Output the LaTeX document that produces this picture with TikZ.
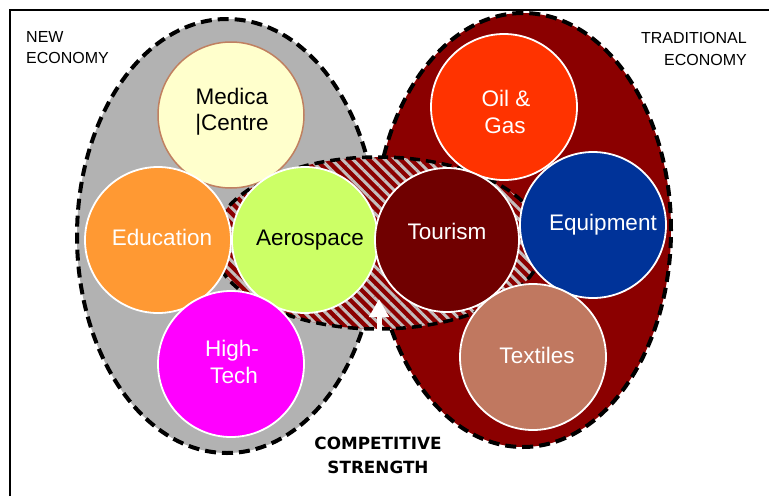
\documentclass[tikz,border=0pt]{standalone}
\usepackage{fontspec}
\setmainfont{Liberation Sans}
\newfontfamily\djvsans{DejaVu Sans}
\usetikzlibrary{patterns.meta,arrows.meta}
\definecolor{ellgray}{RGB}{178,178,178}
\definecolor{ellred}{RGB}{139,0,0}
\definecolor{hatchgray}{RGB}{196,190,190}
\definecolor{medfill}{RGB}{255,255,204}
\definecolor{medline}{RGB}{192,128,96}
\definecolor{edufill}{RGB}{255,153,51}
\definecolor{aerofill}{RGB}{204,255,102}
\definecolor{techfill}{RGB}{255,0,255}
\definecolor{oilfill}{RGB}{255,51,0}
\definecolor{tourfill}{RGB}{112,0,0}
\definecolor{equipfill}{RGB}{0,51,153}
\definecolor{textfill}{RGB}{192,120,96}
\begin{document}
\begin{tikzpicture}[x=1pt,y=-1pt,
  bubble/.style={circle, draw=white, line width=1.8pt, minimum size=146pt, inner sep=0pt},
  zone/.style={draw=black, line width=4pt, dash pattern=on 11pt off 6pt},
  lbl/.style={font=\fontsize{22.5}{26}\selectfont, anchor=base, inner sep=0pt},
  small/.style={font=\fontsize{16}{20}\selectfont, inner sep=0pt},
  strong/.style={font=\djvsans\bfseries\fontsize{16.8}{20}\selectfont, anchor=base, inner sep=0pt}
]
\useasboundingbox (0,0) rectangle (769,496);
% frame
\draw[line width=1.8pt] (10,496) -- (10,10) -- (769,10);
% economy zones
\fill[ellgray] (227,236) ellipse [x radius=150pt, y radius=217pt];
\draw[zone] (227,236) ellipse [x radius=150pt, y radius=217pt];
\fill[ellred] (523,230) ellipse [x radius=148pt, y radius=217pt];
\draw[zone] (523,230) ellipse [x radius=148pt, y radius=217pt];
% competitive strength zone
\fill[ellred] (378,243) ellipse [x radius=165pt, y radius=86pt];
\fill[pattern={Lines[angle=-45,distance=7.5pt,line width=3pt]}, pattern color=hatchgray]
  (378,243) ellipse [x radius=165pt, y radius=86pt];
\draw[draw=black, line width=3.5pt, dash pattern=on 10pt off 6pt] (378,243) ellipse [x radius=165pt, y radius=86pt];
% arrow
\coordinate (arrbase) at (379,334);
\coordinate (arrtip) at (379,299);
\draw[white, line width=5pt, -{Triangle[width=19pt,length=18pt]}] (arrbase) -- (arrtip);
% bubbles
\node[bubble, draw=medline, line width=1.5pt, fill=medfill] (med) at (231,115) {};
\node[bubble, fill=edufill] (edu) at (158,240) {};
\node[bubble, fill=aerofill] (aero) at (305,240) {};
\node[bubble, fill=techfill] (tech) at (231,364) {};
\node[bubble, fill=oilfill] (oil) at (504,107) {};
\node[bubble, fill=tourfill, minimum size=144pt] (tour) at (447,240) {};
\node[bubble, fill=equipfill] (equip) at (593,225) {};
\node[bubble, fill=textfill] (texts) at (533,357) {};
% bubble texts
\node[lbl] (medA) at (232,104) {Medica};
\node[lbl] (medB) at (232,130) {\textbar Centre};
\node[lbl, text=white] (eduT) at (162,245) {Education};
\node[lbl] (aeroT) at (310,245) {Aerospace};
\node[lbl, text=white] (techA) at (232,356) {High-};
\node[lbl, text=white] (techB) at (234,383) {Tech};
\node[lbl, text=white] (oilA) at (506,106) {Oil \&};
\node[lbl, text=white] (oilB) at (505,133) {Gas};
\node[lbl, text=white] (tourT) at (447,239) {Tourism};
\node[lbl, text=white] (equipT) at (603,230) {Equipment};
\node[lbl, text=white] (textT) at (537,363) {Textiles};
% zone labels
\node[small, anchor=base west] (newA) at (26,42) {NEW};
\node[small, anchor=base west] (newB) at (26,63) {ECONOMY};
\node[small, anchor=base east] (tradA) at (747,43) {TRADITIONAL};
\node[small, anchor=base east] (tradB) at (747,65) {ECONOMY};
\node[strong] (compA) at (378,449) {COMPETITIVE};
\node[strong] (compB) at (378,473) {STRENGTH};
\end{tikzpicture}
\end{document}
